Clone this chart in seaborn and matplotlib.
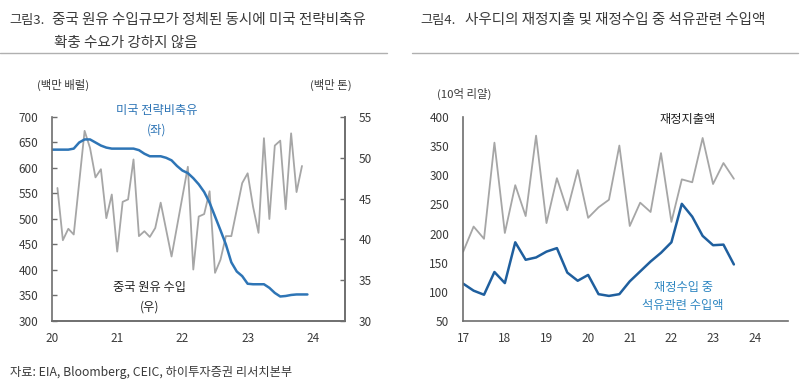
import matplotlib
matplotlib.use("Agg")
import matplotlib.pyplot as plt
import numpy as np
import pandas as pd
import seaborn as sns

# ---- data: fig 3 ----
spr_start = "2020-01"  # monthly, 48 obs
spr_vals = [636, 636, 636, 636, 638, 650, 656, 656, 650, 644, 640, 638,
            638, 638, 638, 638, 635, 628, 623, 623, 623, 620, 615, 604,
            595, 590, 580, 568, 553, 532, 505, 478, 450, 415, 397, 388,
            373, 372, 372, 372, 365, 355, 348, 349, 351, 352, 352, 352]
cn_months = ["2020-02", "2020-03", "2020-04", "2020-05", "2020-07", "2020-08", "2020-09",
             "2020-10", "2020-11", "2020-12", "2021-01", "2021-02", "2021-03", "2021-04",
             "2021-05", "2021-06", "2021-07", "2021-08", "2021-09", "2021-11", "2022-02",
             "2022-03", "2022-04", "2022-05", "2022-06", "2022-07", "2022-08", "2022-09",
             "2022-10", "2022-12", "2023-01", "2023-02", "2023-03", "2023-04", "2023-05",
             "2023-06", "2023-07", "2023-08", "2023-09", "2023-10", "2023-11"]
cn_vals = [46.3, 39.9, 41.3, 40.6, 53.3, 51.2, 47.6, 48.6, 42.6, 45.5, 38.5, 44.6, 44.9, 49.8,
           40.4, 41.0, 40.3, 41.4, 44.5, 37.9, 48.9, 36.3, 42.8, 43.1, 45.9, 35.9, 37.5, 40.4,
           40.4, 46.9, 48.1, 44.0, 40.8, 52.4, 42.5, 51.5, 52.1, 43.7, 53.0, 45.8, 49.0]

# ---- data: fig 4 (quarterly, 2017Q1 ~ 2023Q3) ----
sa_start = "2017Q1"
sa_spend = [169, 212, 191, 356, 201, 283, 230, 368, 218, 295, 240, 309, 227, 245,
            258, 351, 213, 253, 237, 338, 220, 293, 288, 364, 285, 321, 294]
sa_oil = [114, 102, 95, 134, 115, 185, 155, 159, 169, 175, 133, 119, 129, 96,
          93, 96, 118, 135, 152, 167, 185, 251, 229, 196, 180, 181, 147]

BLUE = "#2e75b6"
BLUE2 = "#1f5f9e"
GRAY = "#a6a6a6"
TXT = "#3a3a3a"
SPINE = "#6e6e6e"


def yfrac(p):
    return (p.year - 2000) + (p.month - 1) / 12


spr = pd.DataFrame({"x": [yfrac(p) for p in pd.period_range(spr_start, periods=len(spr_vals), freq="M")],
                    "v": spr_vals})
cn = pd.DataFrame({"x": [yfrac(pd.Period(m, "M")) for m in cn_months], "v": cn_vals})
qs = pd.period_range(sa_start, periods=len(sa_spend), freq="Q")
sa = pd.DataFrame({"x": [(q.year - 2000) + (q.quarter - 1) / 4 for q in qs],
                   "spend": sa_spend, "oil": sa_oil})

sns.set_style("white")
plt.rcParams["font.family"] = ["Noto Sans CJK KR", "DejaVu Sans"]

fig = plt.figure(figsize=(8, 3.9), dpi=100)


def style(ax, left=True, right=False):
    for s in ["top", "right", "left", "bottom"]:
        ax.spines[s].set_visible(False)
    ax.spines["bottom"].set_visible(True)
    if left:
        ax.spines["left"].set_visible(True)
    if right:
        ax.spines["right"].set_visible(True)
    for s in ax.spines.values():
        s.set_color(SPINE); s.set_linewidth(1.2)
    ax.tick_params(direction="in", length=3.5, width=1, color=SPINE, labelsize=8.5,
                   labelcolor=TXT)
    ax.tick_params(axis="y", pad=10)
    ax.tick_params(axis="x", pad=8)
    ax.set_xlabel(""); ax.set_ylabel("")


# ---- left chart ----
ax1 = fig.add_axes([0.065, 0.177, 0.366, 0.523])
ax2 = ax1.twinx()
sns.lineplot(data=cn, x="x", y="v", ax=ax2, color=GRAY, lw=1.3)
sns.lineplot(data=spr, x="x", y="v", ax=ax1, color=BLUE, lw=1.8)
ax1.set_zorder(ax2.get_zorder() + 1); ax1.patch.set_visible(False)
ax1.set_xlim(20, 24.49); ax1.set_ylim(300, 700)
ax1.set_yticks(range(300, 701, 50)); ax1.set_xticks(range(20, 25))
ax2.set_ylim(30, 55); ax2.set_yticks(range(30, 56, 5))
style(ax1); style(ax2, left=False, right=True)
ax1.spines["right"].set_visible(True); ax1.spines["right"].set_color(SPINE)
ax2.tick_params(axis="x", length=0)
ax1.text(-0.05, 1.14, "(백만 배럴)", transform=ax1.transAxes, fontsize=8.2, color=TXT, ha="left")
ax1.text(0.88, 1.14, "(백만 톤)", transform=ax1.transAxes, fontsize=8.2, color=TXT, ha="left")
ax1.text(21.6, 713, "미국 전략비축유", color=BLUE, fontsize=8.8, ha="center", va="center")
ax1.text(21.6, 674, "(좌)", color=BLUE, fontsize=8.8, ha="center", va="center")
ax1.text(21.5, 365, "중국 원유 수입", color="#222222", fontsize=8.8, ha="center", va="center")
ax1.text(21.5, 328, "(우)", color="#222222", fontsize=8.8, ha="center", va="center")

# ---- right chart ----
ax3 = fig.add_axes([0.579, 0.177, 0.406, 0.523])
sns.lineplot(data=sa, x="x", y="spend", ax=ax3, color=GRAY, lw=1.3)
sns.lineplot(data=sa, x="x", y="oil", ax=ax3, color=BLUE2, lw=1.8)
ax3.set_xlim(17, 24.8); ax3.set_ylim(50, 400)
ax3.set_yticks(range(50, 401, 50)); ax3.set_xticks(range(17, 25))
style(ax3)
ax3.text(-0.08, 1.095, "(10억 리얄)", transform=ax3.transAxes, fontsize=8.2, color=TXT, ha="left")
ax3.text(22.4, 395, "재정지출액", color="#222222", fontsize=8.8, ha="center", va="center")
ax3.text(22.28, 108, "재정수입 중", color="#2e86c1", fontsize=8.8, ha="center", va="center")
ax3.text(22.28, 76, "석유관련 수입액", color="#2e86c1", fontsize=8.8, ha="center", va="center")

# ---- titles, rules, source ----
fig.text(0.012, 0.948, "그림3.", fontsize=9.5, color=TXT, va="center")
fig.text(0.065, 0.948, "중국 원유 수입규모가 정체된 동시에 미국 전략비축유", fontsize=10.5, color=TXT, va="center")
fig.text(0.068, 0.89, "확충 수요가 강하지 않음", fontsize=10.5, color=TXT, va="center")
fig.text(0.525, 0.948, "그림4.", fontsize=9.5, color=TXT, va="center")
fig.text(0.581, 0.948, "사우디의 재정지출 및 재정수입 중 석유관련 수입액", fontsize=10.5, color=TXT, va="center")
fig.add_artist(plt.Line2D([0.0, 0.484], [0.865, 0.865], color="#b0b0b0", lw=1))
fig.add_artist(plt.Line2D([0.515, 0.998], [0.865, 0.865], color="#b0b0b0", lw=1))
fig.text(0.012, 0.045, "자료: EIA, Bloomberg, CEIC, 하이투자증권 리서치본부", fontsize=8.8, color=TXT, va="center")

fig.savefig("out.png", dpi=100)
